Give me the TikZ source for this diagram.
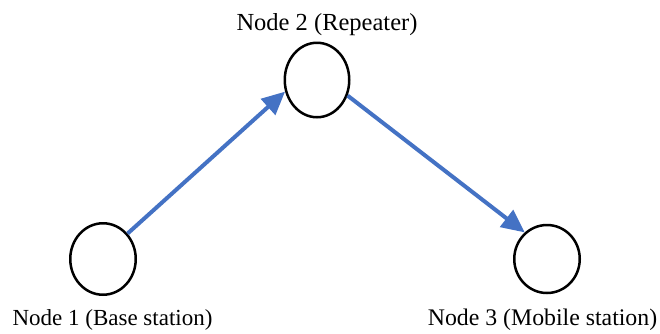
\documentclass[tikz,border=0pt]{standalone}
\usepackage{fontspec}
\setmainfont{Liberation Serif}
\usetikzlibrary{shapes.geometric,arrows.meta}
\definecolor{arrowblue}{RGB}{68,114,196}
\begin{document}
\begin{tikzpicture}[x=1pt,y=-1pt,
  station/.style={ellipse,draw=black,line width=2.5pt,inner sep=0pt},
  label/.style={anchor=base,inner sep=0pt},
  link/.style={draw=arrowblue,line width=4pt,-{Triangle[length=23pt,width=21pt]}}]
\useasboundingbox (0,0) rectangle (660,333);
\node[station,minimum width=65.5pt,minimum height=71.5pt] (n1) at (103,259) {};
\node[station,minimum width=64.5pt,minimum height=74.5pt] (n2) at (317,80) {};
\node[station,minimum width=65.5pt,minimum height=68pt] (n3) at (547,259) {};
\node[label,font=\fontsize{23}{26}\selectfont] (l1) at (112.5,325) {Node 1 (Base station)};
\node[label,font=\fontsize{24.5}{27}\selectfont] (l2) at (327,30) {Node 2 (Repeater)};
\node[label,font=\fontsize{23.8}{27}\selectfont] (l3) at (542.5,325) {Node 3 (Mobile station)};
\draw[link] (n1.46) -- (n2.200);
\draw[link] (n2.333) -- (n3.130);
\end{tikzpicture}
\end{document}
